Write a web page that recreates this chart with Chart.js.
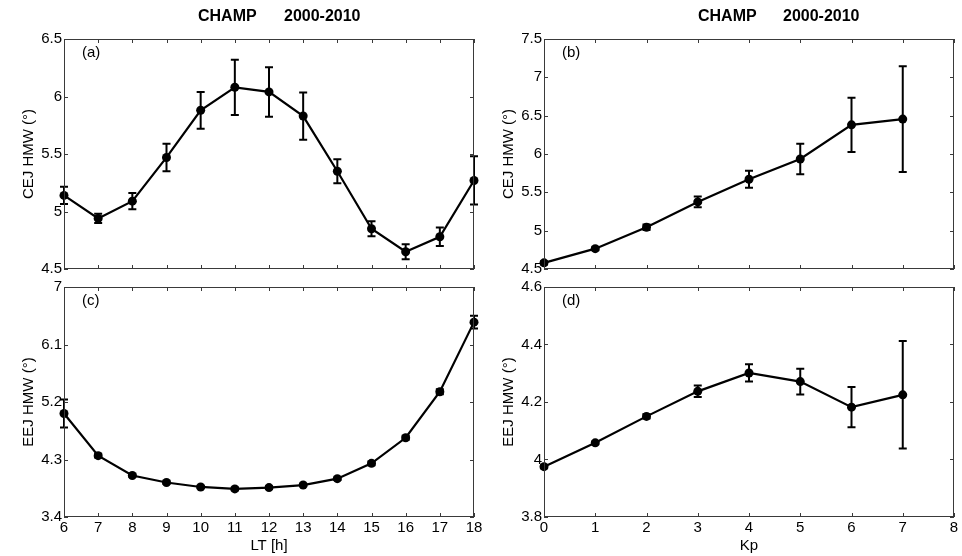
<!DOCTYPE html>
<html><head><meta charset="utf-8">
<script src="https://cdn.jsdelivr.net/npm/chart.js@4.4.0/dist/chart.umd.min.js"></script>
<style>
html,body{margin:0;padding:0;background:#fff;width:962px;height:556px;overflow:hidden;}
canvas{position:absolute;left:0;top:0;}
</style></head><body>
<canvas id="pa" width="962" height="556"></canvas>
<canvas id="pb" width="962" height="556"></canvas>
<canvas id="pc" width="962" height="556"></canvas>
<canvas id="pd" width="962" height="556"></canvas>
<script>
// ---- data ----
const ltHours   = [6, 7, 8, 9, 10, 11, 12, 13, 14, 15, 16, 17, 18];
const cejLT     = [5.14, 4.94, 5.09, 5.47, 5.88, 6.08, 6.04, 5.83, 5.35, 4.85, 4.65, 4.78, 5.27];
const cejLTErr  = [0.075, 0.04, 0.07, 0.12, 0.16, 0.24, 0.215, 0.205, 0.105, 0.065, 0.065, 0.08, 0.21];
const eejLT     = [5.02, 4.36, 4.05, 3.94, 3.87, 3.84, 3.86, 3.90, 4.00, 4.24, 4.64, 5.36, 6.45];
const eejLTErr  = [0.22, 0.03, 0.02, 0.02, 0.02, 0.02, 0.02, 0.02, 0.02, 0.03, 0.03, 0.04, 0.10];

const kpValues  = [0, 1, 2, 3, 4, 5, 6, 7];
const cejKp     = [4.58, 4.765, 5.045, 5.375, 5.67, 5.935, 6.38, 6.455];
const cejKpErr  = [0.02, 0.02, 0.035, 0.07, 0.11, 0.2, 0.355, 0.69];
const eejKp     = [3.975, 4.058, 4.15, 4.237, 4.301, 4.271, 4.182, 4.225];
const eejKpErr  = [0.005, 0.005, 0.007, 0.02, 0.03, 0.045, 0.07, 0.187];

const xTicksLT  = [6, 7, 8, 9, 10, 11, 12, 13, 14, 15, 16, 17, 18];
const xTicksKp  = [0, 1, 2, 3, 4, 5, 6, 7, 8];
const yTicksA   = [4.5, 5, 5.5, 6, 6.5];
const yTicksB   = [4.5, 5, 5.5, 6, 6.5, 7, 7.5];
const yTicksC   = [3.4, 4.3, 5.2, 6.1, 7];
const yTicksD   = [3.8, 4, 4.2, 4.4, 4.6];

const titleWords = ['CHAMP', '2000-2010'];
const yTitleCEJ = 'CEJ HMW (°)';
const yTitleEEJ = 'EEJ HMW (°)';
const xTitleLT = 'LT [h]';
const xTitleKp = 'Kp';

// ---- drawing ----
const FONT = "'Liberation Sans', Arial, Helvetica, sans-serif";
Chart.defaults.font.family = FONT;
Chart.defaults.font.size = 15;
Chart.defaults.color = '#000';

function fmt(v){ return String(Math.round(v * 1000) / 1000); }

function makePanel(id, p) {
  const yW = 64;
  const xH = p.xTitle ? 39 : 9;
  const frame = {
    id: 'frame_' + id,
    beforeDatasetsDraw(chart) {
      const {ctx, scales: {x, y}} = chart;
      const data = chart.data.datasets[0].data;
      ctx.save();
      ctx.strokeStyle = '#000';
      ctx.lineWidth = 2;
      data.forEach((pt, i) => {
        const px = x.getPixelForValue(pt.x);
        const t = y.getPixelForValue(pt.y + p.err[i]);
        const b = y.getPixelForValue(pt.y - p.err[i]);
        ctx.beginPath();
        ctx.moveTo(px, t); ctx.lineTo(px, b);
        ctx.moveTo(px - 4, t); ctx.lineTo(px + 4, t);
        ctx.moveTo(px - 4, b); ctx.lineTo(px + 4, b);
        ctx.stroke();
      });
      ctx.restore();
    },
    afterDraw(chart) {
      const {ctx, chartArea: a, scales: {x, y}} = chart;
      ctx.save();
      ctx.strokeStyle = '#3a3a3a';
      ctx.lineWidth = 1;
      ctx.strokeRect(a.left + 0.5, a.top + 0.5, a.right - a.left - 1, a.bottom - a.top - 1);
      ctx.beginPath();
      x.ticks.forEach(t => {
        const px = Math.round(x.getPixelForValue(t.value)) + 0.5;
        ctx.moveTo(px, a.bottom); ctx.lineTo(px, a.bottom - 4);
        ctx.moveTo(px, a.top); ctx.lineTo(px, a.top + 4);
      });
      y.ticks.forEach(t => {
        const py = Math.round(y.getPixelForValue(t.value)) + 0.5;
        ctx.moveTo(a.left, py); ctx.lineTo(a.left + 4, py);
        ctx.moveTo(a.right, py); ctx.lineTo(a.right - 4, py);
      });
      ctx.stroke();
      ctx.fillStyle = '#000';
      ctx.font = '15px ' + FONT;
      ctx.textBaseline = 'middle';
      ctx.textAlign = 'left';
      ctx.fillText(p.letter, a.left + 18, a.top + 14);
      if (p.titleX) {
        ctx.font = 'bold 16px ' + FONT;
        ctx.fillText(titleWords[0], p.titleX[0], 17);
        ctx.fillText(titleWords[1], p.titleX[1], 17);
      }
      ctx.restore();
    }
  };
  return new Chart(document.getElementById(id), {
    type: 'line',
    data: {
      datasets: [{
        data: p.xs.map((v, i) => ({x: v, y: p.ys[i]})),
        borderColor: '#000',
        backgroundColor: '#000',
        borderWidth: 2.2,
        pointRadius: 4.5,
        pointHoverRadius: 4.5,
        pointBackgroundColor: '#000',
        pointBorderColor: '#000',
        pointBorderWidth: 0,
        tension: 0,
        clip: false
      }]
    },
    options: {
      responsive: false,
      animation: false,
      devicePixelRatio: 1,
      events: [],
      layout: { padding: {
        left: p.area.left - yW,
        top: p.area.top,
        right: 962 - p.area.right,
        bottom: 556 - p.area.bottom - xH
      }},
      plugins: { legend: {display: false}, tooltip: {enabled: false}, title: {display: false} },
      scales: {
        x: {
          type: 'linear',
          min: p.xTicks[0], max: p.xTicks[p.xTicks.length - 1],
          afterBuildTicks: s => { s.ticks = p.xTicks.map(v => ({value: v})); },
          afterFit: s => { s.height = xH; },
          grid: {display: false, drawTicks: false},
          border: {display: false},
          ticks: {display: !!p.xTitle, autoSkip: false, maxRotation: 0, minRotation: 0, padding: 2,
                  color: '#000', font: {size: 15}, callback: v => fmt(v)},
          title: p.xTitle ? {display: true, text: p.xTitle, color: '#000', font: {size: 15},
                             padding: {top: 0, bottom: 1}} : {display: false}
        },
        y: {
          type: 'linear',
          min: p.yTicks[0], max: p.yTicks[p.yTicks.length - 1],
          afterBuildTicks: s => { s.ticks = p.yTicks.map(v => ({value: v})); },
          afterFit: s => { s.width = yW; },
          grid: {display: false, drawTicks: false},
          border: {display: false},
          ticks: {autoSkip: false, padding: 2, color: '#000', font: {size: 15}, callback: v => fmt(v)},
          title: {display: true, text: p.yTitle, color: '#000', font: {size: 15},
                  padding: {top: 20, bottom: 0}}
        }
      }
    },
    plugins: [frame]
  });
}

makePanel('pa', {xs: ltHours, ys: cejLT, err: cejLTErr, xTicks: xTicksLT, yTicks: yTicksA,
  yTitle: yTitleCEJ, xTitle: null, letter: '(a)', titleX: [198, 284],
  area: {left: 64, top: 39, right: 474, bottom: 269}});
makePanel('pb', {xs: kpValues, ys: cejKp, err: cejKpErr, xTicks: xTicksKp, yTicks: yTicksB,
  yTitle: yTitleCEJ, xTitle: null, letter: '(b)', titleX: [698, 783],
  area: {left: 544, top: 39, right: 954, bottom: 269}});
makePanel('pc', {xs: ltHours, ys: eejLT, err: eejLTErr, xTicks: xTicksLT, yTicks: yTicksC,
  yTitle: yTitleEEJ, xTitle: xTitleLT, letter: '(c)', titleX: null,
  area: {left: 64, top: 287, right: 474, bottom: 517}});
makePanel('pd', {xs: kpValues, ys: eejKp, err: eejKpErr, xTicks: xTicksKp, yTicks: yTicksD,
  yTitle: yTitleEEJ, xTitle: xTitleKp, letter: '(d)', titleX: null,
  area: {left: 544, top: 287, right: 954, bottom: 517}});
</script>
</body></html>
